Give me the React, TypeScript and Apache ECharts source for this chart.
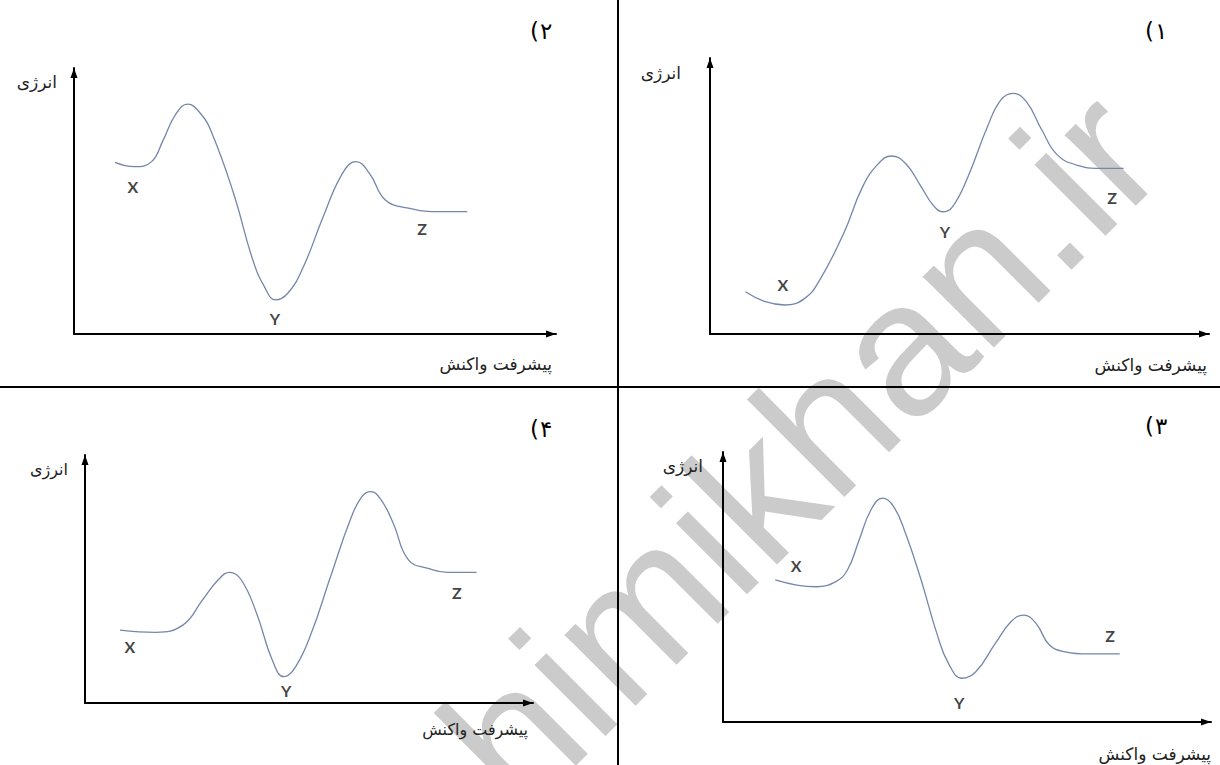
import React, { useEffect, useRef } from 'react';
import * as echarts from 'echarts';

// ---------- texts ----------
const stateNames = ['X', 'Y', 'Z'];
const panelDigits = ['۱', '۲', '۳', '۴'];
const panelParen = '(';
const energyTitle = 'انرژی';
const progressTitle = 'پیشرفت واکنش';
const watermarkText = 'himikhan.ir';

// ---------- panel 1 (top right) ----------
const p1Progress = [7.1, 11.1, 15.0, 19.0, 22.0, 26.8, 30.6, 33.8, 36.3, 39.2, 42.3, 44.7, 46.6, 48.6, 51.7, 55.6, 58.3, 60.7, 63.4, 66.5, 69.6, 73.5, 78.2, 82.9];
const p1Energy = [15.3, 11.7, 10.5, 12.9, 19.6, 36.5, 53.4, 61.8, 64.5, 61.8, 53.4, 46.7, 44.3, 46.1, 57.0, 75.1, 84.8, 87.2, 84.2, 73.9, 64.9, 61.2, 60.0, 60.0];
const p1LabelProgress = [14.6, 47.1, 80.6];
const p1LabelEnergy = [17.8, 37.0, 49.6];

// ---------- panel 2 (top left) ----------
const p2Progress = [8.5, 12.5, 16.1, 18.5, 21.0, 23.6, 26.2, 28.6, 33.1, 37.1, 39.5, 41.8, 44.4, 47.6, 51.7, 55.7, 58.5, 61.3, 64.6, 69.4, 75.1, 81.6];
const p2Energy = [64.5, 62.9, 64.8, 72.9, 82.3, 86.4, 83.0, 75.6, 52.9, 27.8, 17.8, 12.8, 15.4, 25.3, 44.1, 60.4, 64.8, 60.4, 50.4, 47.3, 46.0, 46.0];
const p2LabelProgress = [12.2, 41.7, 72.2];
const p2LabelEnergy = [55.3, 6.0, 39.5];

// ---------- panel 3 (bottom right) ----------
const p3Progress = [10.7, 15.1, 19.1, 23.1, 25.5, 27.9, 30.3, 32.7, 35.0, 37.4, 40.6, 43.8, 46.2, 49.0, 51.8, 55.8, 59.0, 61.6, 64.1, 66.9, 70.1, 74.9, 81.3];
const p3Energy = [52.6, 50.7, 50.1, 52.0, 56.3, 67.4, 78.5, 82.9, 79.7, 69.9, 52.6, 32.9, 21.7, 16.2, 18.6, 29.1, 37.1, 39.6, 36.6, 28.5, 26.0, 25.2, 25.2];
const p3LabelProgress = [15.0, 48.4, 79.3];
const p3LabelEnergy = [58.1, 7.4, 32.2];

// ---------- panel 4 (bottom left) ----------
const p4Progress = [7.8, 15.8, 21.9, 26.2, 29.7, 32.3, 34.9, 38.3, 41.8, 44.4, 47.0, 50.5, 54.8, 59.2, 61.8, 63.8, 66.1, 68.8, 72.2, 76.6, 80.9, 87.4];
const p4Energy = [29.4, 28.5, 31.5, 41.5, 49.6, 52.7, 49.6, 36.2, 17.3, 10.6, 14.6, 28.1, 50.9, 73.8, 83.2, 85.2, 81.9, 72.5, 57.7, 54.3, 52.7, 52.7];
const p4LabelProgress = [10.0, 44.9, 83.0];
const p4LabelEnergy = [22.6, 5.2, 44.4];

const curveProgress = [p1Progress, p2Progress, p3Progress, p4Progress];
const curveEnergy = [p1Energy, p2Energy, p3Energy, p4Energy];
const labelProgress = [p1LabelProgress, p2LabelProgress, p3LabelProgress, p4LabelProgress];
const labelEnergy = [p1LabelEnergy, p2LabelEnergy, p3LabelEnergy, p4LabelEnergy];

// ---------- layout ----------
const grids = [
  { left: 710, top: 58, width: 499, height: 276 },
  { left: 74, top: 68, width: 482, height: 266 },
  { left: 723, top: 452, width: 488, height: 270 },
  { left: 85, top: 455, width: 448, height: 248 },
];
const energyTitlePos = [
  [681, 73],
  [57, 82],
  [703, 466],
  [68, 469],
];
const progressTitlePos = [
  [1207, 365],
  [552, 364],
  [1211, 754],
  [528, 729],
];
const titleFontSize = [17, 17, 17, 16];
// [paren right edge, digit left edge, centre y]
const numberPos = [
  [1154, 1155, 31],
  [539, 540, 31],
  [1154, 1155, 426],
  [539, 540, 429],
];

const CURVE_COLOR = '#7586ab';
const PERSIAN_FONT = '"DejaVu Sans", "Noto Sans", sans-serif';

function axisCommon() {
  return {
    type: 'value' as const,
    min: 0,
    max: 100,
    axisLine: {
      show: true,
      symbol: ['none', 'triangle'],
      symbolSize: [7, 10],
      symbolOffset: [0, -5],
      lineStyle: { color: '#000', width: 2 },
    },
    axisTick: { show: false },
    axisLabel: { show: false },
    splitLine: { show: false },
  };
}

export default function App() {
  const ref = useRef<HTMLDivElement | null>(null);

  useEffect(() => {
    if (!ref.current) return;
    const chart = echarts.init(ref.current, null, { renderer: 'svg' });

    const series: any[] = [];
    grids.forEach((_, i) => {
      series.push({
        type: 'line',
        xAxisIndex: i,
        yAxisIndex: i,
        data: curveProgress[i].map((x, j) => [x, curveEnergy[i][j]]),
        smooth: 0.45,
        showSymbol: false,
        symbol: 'none',
        lineStyle: { color: CURVE_COLOR, width: 1.3 },
        silent: true,
        z: 3,
      });
      series.push({
        type: 'scatter',
        xAxisIndex: i,
        yAxisIndex: i,
        symbolSize: 0,
        itemStyle: { color: 'transparent' },
        data: stateNames.map((n, j) => ({ name: n, value: [labelProgress[i][j], labelEnergy[i][j]] })),
        label: {
          show: true,
          position: 'inside',
          formatter: '{b}',
          color: '#111',
          fontSize: 16,
          fontWeight: 'bold',
          fontFamily: 'Lato, "Open Sans", sans-serif',
        },
        silent: true,
        z: 4,
      });
    });

    const graphics: any[] = [
      {
        type: 'text',
        x: 475,
        y: 773,
        rotation: Math.PI / 4,
        z: -10,
        silent: true,
        style: {
          text: watermarkText,
          font: '190px "Liberation Sans", Arial, sans-serif',
          fill: '#cbcbcb',
          align: 'left',
          verticalAlign: 'middle',
        },
      },
      {
        type: 'line',
        z: 10,
        shape: { x1: 618, y1: 0, x2: 618, y2: 765 },
        style: { stroke: '#000', lineWidth: 2 },
      },
      {
        type: 'line',
        z: 10,
        shape: { x1: 0, y1: 387, x2: 1220, y2: 387 },
        style: { stroke: '#000', lineWidth: 2 },
      },
    ];
    grids.forEach((_, i) => {
      graphics.push({
        type: 'text',
        x: energyTitlePos[i][0],
        y: energyTitlePos[i][1],
        z: 10,
        style: {
          text: energyTitle,
          font: `${titleFontSize[i]}px ${PERSIAN_FONT}`,
          fill: '#222',
          align: 'right',
          verticalAlign: 'middle',
        },
      });
      graphics.push({
        type: 'text',
        x: progressTitlePos[i][0],
        y: progressTitlePos[i][1],
        z: 10,
        style: {
          text: progressTitle,
          font: `${titleFontSize[i]}px ${PERSIAN_FONT}`,
          fill: '#222',
          align: 'right',
          verticalAlign: 'middle',
        },
      });
      graphics.push({
        type: 'text',
        x: numberPos[i][0],
        y: numberPos[i][2],
        z: 10,
        style: {
          text: panelParen,
          font: `23px ${PERSIAN_FONT}`,
          fill: '#000',
          align: 'right',
          verticalAlign: 'middle',
        },
      });
      graphics.push({
        type: 'text',
        x: numberPos[i][1],
        y: numberPos[i][2],
        z: 10,
        style: {
          text: panelDigits[i],
          font: `23px ${PERSIAN_FONT}`,
          fill: '#000',
          align: 'left',
          verticalAlign: 'middle',
        },
      });
    });

    chart.setOption({
      animation: false,
      backgroundColor: '#ffffff',
      grid: grids.map((g) => ({ ...g, containLabel: false })),
      xAxis: grids.map((_, i) => ({ ...axisCommon(), gridIndex: i })),
      yAxis: grids.map((_, i) => ({ ...axisCommon(), gridIndex: i })),
      series,
      graphic: graphics,
    });

    return () => chart.dispose();
  }, []);

  return (
    <div
      ref={ref}
      style={{ position: 'absolute', left: 0, top: 0, width: 1220, height: 765 }}
    />
  );
}
